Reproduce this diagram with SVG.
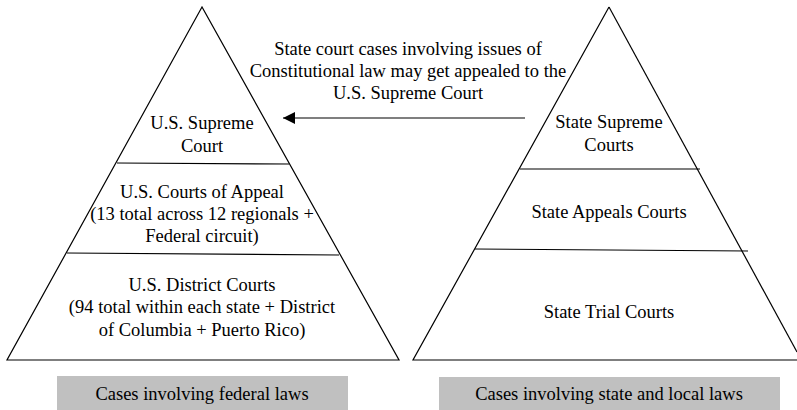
<svg xmlns="http://www.w3.org/2000/svg" width="797" height="410" viewBox="0 0 797 410">
<defs>
<style>
text{font-family:"Liberation Serif","Times New Roman",serif;font-size:18.5px;fill:#000;text-anchor:middle}
.ln{stroke:#000;stroke-width:1.2;fill:none}
.box{fill:#c0c0c0}
</style>
<marker id="ah" markerWidth="12" markerHeight="12" refX="12" refY="6" orient="auto" markerUnits="userSpaceOnUse">
<path d="M0,0 L12,6 L0,12 Z" fill="#000"/>
</marker>
</defs>
<rect width="797" height="410" fill="#fff"/>
<g id="federal-pyramid">
<path class="ln" d="M202,7 L7,360 L399,360 Z"/>
<line class="ln" x1="117" y1="163" x2="289" y2="164"/>
<line class="ln" x1="67" y1="253" x2="339" y2="255"/>
</g>
<g id="us-supreme-court"><text x="202" y="129">U.S. Supreme</text><text x="202" y="152">Court</text></g>
<g id="us-courts-appeal"><text x="202" y="198">U.S. Courts of Appeal</text><text x="202" y="220">(13 total across 12 regionals +</text><text x="202" y="242">Federal circuit)</text></g>
<g id="us-district-courts"><text x="202" y="291">U.S. District Courts</text><text x="202" y="313">(94 total within each state + District</text><text x="202" y="336">of Columbia + Puerto Rico)</text></g>
<g id="federal-label"><rect class="box" x="57" y="376" width="291" height="34"/><text x="202" y="400">Cases involving federal laws</text></g>
<g id="state-pyramid">
<path class="ln" d="M609,7 L413,360 L797,360"/>
<line class="ln" x1="609" y1="7" x2="797" y2="352"/>
<line class="ln" x1="520" y1="169" x2="700" y2="169"/>
<line class="ln" x1="475" y1="249" x2="748" y2="251"/>
</g>
<g id="state-supreme-courts"><text x="609" y="128">State Supreme</text><text x="609" y="151">Courts</text></g>
<g id="state-appeals-courts"><text x="609" y="218">State Appeals Courts</text></g>
<g id="state-trial-courts"><text x="609" y="318">State Trial Courts</text></g>
<g id="state-label"><rect class="box" x="439" y="377" width="341" height="33"/><text x="609" y="400">Cases involving state and local laws</text></g>
<g id="connectors">
<line class="ln" x1="525" y1="118" x2="283" y2="118" marker-end="url(#ah)"/>
<text x="408" y="55">State court cases involving issues of</text>
<text x="408" y="77">Constitutional law may get appealed to the</text>
<text x="408" y="99">U.S. Supreme Court</text>
</g>
</svg>
